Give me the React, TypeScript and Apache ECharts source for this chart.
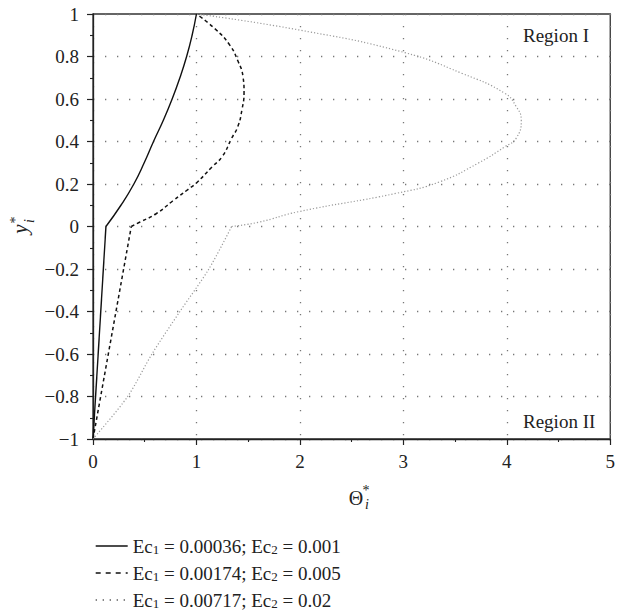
import React, { useEffect, useRef } from 'react';
import * as echarts from 'echarts';

// Legend names (plain) and their rich-text forms
const seriesNames = [
  'Ec1 = 0.00036; Ec2 = 0.001',
  'Ec1 = 0.00174; Ec2 = 0.005',
  'Ec1 = 0.00717; Ec2 = 0.02',
];
const seriesRichNames = [
  'Ec{sub|1} = 0.00036; Ec{sub|2} = 0.001',
  'Ec{sub|1} = 0.00174; Ec{sub|2} = 0.005',
  'Ec{sub|1} = 0.00717; Ec{sub|2} = 0.02',
];

// Curve 1 (solid)
const solidRegionII: number[][] = [[0, -1], [0.125, 0]];
const solidRegionI: number[][] = [
  [0.125, 0], [0.27, 0.1], [0.395, 0.2], [0.495, 0.3], [0.585, 0.4], [0.68, 0.5],
  [0.765, 0.6], [0.84, 0.7], [0.905, 0.8], [0.958, 0.9], [1.0, 1.0],
];

// Curve 2 (dashed)
const dashedRegionII: number[][] = [[0, -1], [0.37, 0]];
const dashedRegionI: number[][] = [
  [0.37, 0], [0.45, 0.02], [0.61, 0.06], [0.77, 0.12], [0.92, 0.175], [1.0, 0.205],
  [1.15, 0.28], [1.25, 0.33], [1.34, 0.415], [1.4, 0.47], [1.44, 0.55], [1.46, 0.63],
  [1.45, 0.705], [1.4, 0.78], [1.32, 0.855], [1.18, 0.93], [1.0, 1.0],
];

// Curve 3 (dotted)
const dottedRegionII: number[][] = [
  [0, -1], [0.335, -0.8], [0.57, -0.6], [0.84, -0.4], [1.12, -0.2], [1.34, 0],
];
const dottedRegionI: number[][] = [
  [1.34, 0], [1.6, 0.02], [1.99, 0.07], [2.93, 0.156], [3.35, 0.21], [3.73, 0.3],
  [3.98, 0.375], [4.09, 0.415], [4.14, 0.5], [4.09, 0.565], [3.98, 0.627], [3.57, 0.72],
  [3.0, 0.82], [1.99, 0.925], [1.0, 1.0],
];

const xMin = 0, xMax = 5, xInterval = 1;
const yMin = -1, yMax = 1, yInterval = 0.2;

const FONT = '"Liberation Serif", "Times New Roman", serif';
const TEXT_COLOR = '#222';

const fmt = (v: number) => String(Math.round(v * 10) / 10).replace('-', '\u2212');

export default function App() {
  const ref = useRef<HTMLDivElement>(null);

  useEffect(() => {
    if (!ref.current) return;
    const chart = echarts.init(ref.current, null, { renderer: 'svg' });

    const solidStyle = { color: '#111', width: 1.4, type: 'solid' as any };
    const dashedStyle = { color: '#111', width: 1.5, type: [3.5, 3] as any };
    const dottedStyle = { color: '#9a9a9a', width: 1.2, type: [1.2, 2] as any };

    const mk = (name: string, data: number[][], ls: any, smooth: number | boolean) => ({
      type: 'line',
      name,
      data,
      showSymbol: false,
      symbol: 'none',
      smooth,
      lineStyle: ls,
      itemStyle: { color: ls.color },
      z: 3,
    });

    const splitDots = { show: true, lineStyle: { color: '#777', width: 1.3, type: [1.3, 10.7] as any } };

    const legendLineStyles: any[] = [
      { color: '#111', width: 1.4, type: 'solid' },
      { color: '#111', width: 1.4, type: [5, 5] },
      { color: '#555', width: 1.3, type: [1.3, 5.7] },
    ];
    const legendTops = [531, 558, 585];

    const legends = seriesNames.map((name, i) => ({
      orient: 'vertical',
      left: 90,
      top: legendTops[i],
      itemWidth: 32,
      itemHeight: 14,
      itemGap: 5,
      itemTextGap: 13,
      selectedMode: false,
      itemStyle: { opacity: 0, borderWidth: 0 },
      data: [{ name, lineStyle: legendLineStyles[i], itemStyle: { opacity: 0, borderWidth: 0 } }],
      formatter: (n: string) => seriesRichNames[seriesNames.indexOf(n)] ?? n,
      textStyle: {
        fontFamily: FONT,
        fontSize: 19,
        color: TEXT_COLOR,
        lineHeight: 20,
        rich: {
          sub: { fontFamily: FONT, fontSize: 13, color: TEXT_COLOR, padding: [6, 0, 0, 0] },
        },
      },
    }));

    const option: any = {
      animation: false,
      grid: {
        left: 93,
        right: 2,
        top: 14,
        bottom: 172,
        show: true,
        borderColor: '#333',
        borderWidth: 1.3,
        backgroundColor: 'transparent',
      },
      xAxis: {
        type: 'value',
        min: xMin,
        max: xMax,
        interval: xInterval,
        axisLine: { show: true, onZero: false, lineStyle: { color: '#222', width: 1.3 } },
        axisTick: { show: true, inside: false, length: 6, lineStyle: { color: '#222', width: 1.2 } },
        minorTick: { show: true, splitNumber: 2, length: 3, lineStyle: { color: '#222', width: 1.1 } },
        splitLine: splitDots,
        axisLabel: {
          margin: 13,
          fontFamily: FONT,
          fontSize: 19,
          color: TEXT_COLOR,
          formatter: (v: number) => fmt(v),
        },
      },
      yAxis: {
        type: 'value',
        min: yMin,
        max: yMax,
        interval: yInterval,
        axisLine: { show: true, onZero: false, lineStyle: { color: '#222', width: 1.3 } },
        axisTick: { show: true, inside: false, length: 6, lineStyle: { color: '#222', width: 1.2 } },
        minorTick: { show: true, splitNumber: 2, length: 3, lineStyle: { color: '#222', width: 1.1 } },
        splitLine: splitDots,
        axisLabel: {
          margin: 14,
          fontFamily: FONT,
          fontSize: 19,
          color: TEXT_COLOR,
          formatter: (v: number) => fmt(v),
        },
      },
      legend: legends,
      graphic: [
        {
          type: 'text',
          left: 523,
          top: 26,
          style: { text: 'Region I', font: `19px ${FONT}`, fill: TEXT_COLOR },
        },
        {
          type: 'text',
          left: 523,
          top: 412,
          style: { text: 'Region II', font: `19px ${FONT}`, fill: TEXT_COLOR },
        },
        {
          type: 'group',
          x: 22,
          y: 226,
          rotation: Math.PI / 2,
          children: [
            { type: 'text', x: -3, y: -2, style: { text: 'y', font: `italic 21px ${FONT}`, fill: TEXT_COLOR, align: 'center', verticalAlign: 'middle' } },
            { type: 'text', x: 6, y: -7, style: { text: '*', font: `14px ${FONT}`, fill: TEXT_COLOR, align: 'center', verticalAlign: 'middle' } },
            { type: 'text', x: 5, y: 7, style: { text: 'i', font: `italic 14px ${FONT}`, fill: TEXT_COLOR, align: 'center', verticalAlign: 'middle' } },
          ],
        },
        {
          type: 'group',
          x: 0,
          y: 0,
          children: [
            { type: 'text', x: 356, y: 498, style: { text: '\u0398', font: `20px ${FONT}`, fill: TEXT_COLOR, align: 'center', verticalAlign: 'middle' } },
            { type: 'text', x: 366, y: 490, style: { text: '*', font: `14px ${FONT}`, fill: TEXT_COLOR, align: 'center', verticalAlign: 'middle' } },
            { type: 'text', x: 367, y: 504, style: { text: 'i', font: `italic 14px ${FONT}`, fill: TEXT_COLOR, align: 'center', verticalAlign: 'middle' } },
          ],
        },
      ],
      series: [
        mk(seriesNames[0], solidRegionII, solidStyle, false),
        mk(seriesNames[0], solidRegionI, solidStyle, 0.5),
        mk(seriesNames[1], dashedRegionII, dashedStyle, false),
        mk(seriesNames[1], dashedRegionI, dashedStyle, 0.5),
        mk(seriesNames[2], dottedRegionII, dottedStyle, 0.3),
        mk(seriesNames[2], dottedRegionI, dottedStyle, 0.5),
      ],
    };

    chart.setOption(option);
    return () => chart.dispose();
  }, []);

  return (
    <div
      ref={ref}
      style={{ position: 'absolute', left: 0, top: 0, width: 618, height: 611, background: '#fff' }}
    />
  );
}
